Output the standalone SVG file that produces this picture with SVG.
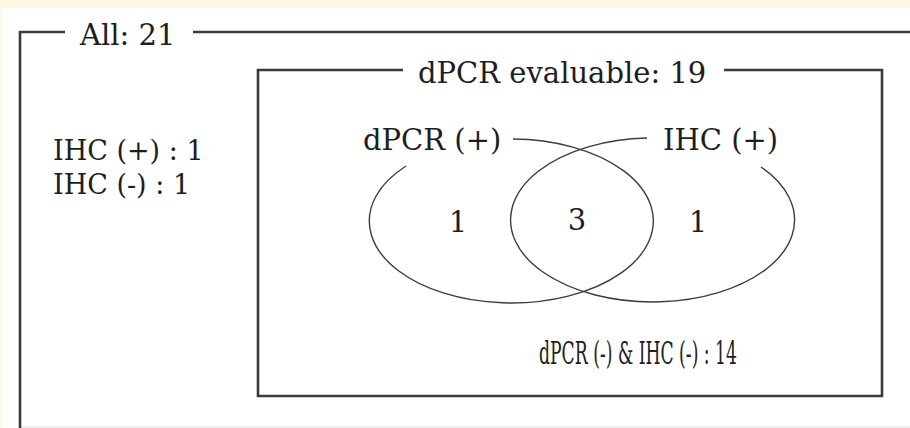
<svg xmlns="http://www.w3.org/2000/svg" width="910" height="428" viewBox="0 0 910 428">
  <style>
    .frame { fill: none; stroke: #3a3a3a; stroke-width: 2.6; }
    .set { fill: none; stroke: #3c3c3c; stroke-width: 1.4; }
    .lbl { font-family: "DejaVu Serif", "Liberation Serif", serif; font-size: 29px; fill: #1e1e1e; }
    .side { font-size: 27px; }
  </style>
  <!-- page background -->
  <rect x="0" y="0" width="910" height="428" fill="#fdf8e4"/>
  <rect x="2" y="8" width="908" height="420" fill="#ffffff"/>
  <line x1="20" y1="427" x2="910" y2="427" stroke="#dcdcdc" stroke-width="1.2"/>

  <!-- outer frame: all cases -->
  <g id="all">
    <path class="frame" d="M65 32 H20 V428 M193 32 H910"/>
    <text class="lbl" x="80" y="45">All: 21</text>
    <text class="lbl side" x="53" y="160">IHC (+) : 1</text>
    <text class="lbl side" x="53" y="194">IHC (-) : 1</text>
  </g>

  <!-- inner frame: dPCR evaluable -->
  <g id="evaluable">
    <path class="frame" d="M403 70 H258 V396 H882 V70 H724"/>
    <text class="lbl" x="418" y="83">dPCR evaluable: 19</text>
    <text class="lbl" x="638" y="364" text-anchor="middle" style="font-size:31px" textLength="198" lengthAdjust="spacingAndGlyphs">dPCR (-) &amp; IHC (-) : 14</text>
  </g>

  <!-- dPCR positive set -->
  <g id="dpcr">
    <path class="set" d="M513 139 A142 82 0 1 1 406 166"/>
    <text class="lbl" x="363" y="150">dPCR (+)</text>
    <text class="lbl" x="458" y="232" text-anchor="middle">1</text>
  </g>

  <!-- IHC positive set -->
  <g id="ihc">
    <path class="set" d="M647 138 A142 82 0 1 0 761 167"/>
    <text class="lbl" x="663" y="150">IHC (+)</text>
    <text class="lbl" x="698" y="232" text-anchor="middle">1</text>
  </g>

  <!-- overlap -->
  <g id="both">
    <text class="lbl" x="577" y="230" text-anchor="middle">3</text>
  </g>
</svg>
